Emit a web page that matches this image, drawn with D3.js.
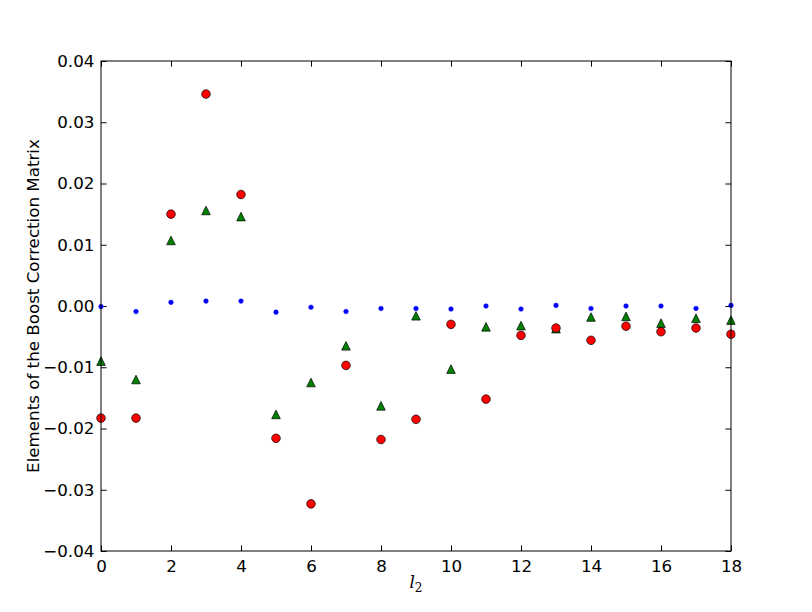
<!DOCTYPE html>
<html><head><meta charset="utf-8">
<script src="https://cdn.jsdelivr.net/npm/d3@7"></script>
<style>body{margin:0;background:#fff}svg{display:block}</style>
</head><body>
<script>
const l2 = [0,1,2,3,4,5,6,7,8,9,10,11,12,13,14,15,16,17,18];
const redVals = [-0.0183,-0.0183,0.0150,0.0346,0.0182,-0.0216,-0.0323,-0.0097,-0.0218,-0.0185,-0.0030,-0.0152,-0.0048,-0.0036,-0.0056,-0.0033,-0.0042,-0.0036,-0.0046];
const greenVals = [-0.0090,-0.0120,0.0107,0.0156,0.0146,-0.0177,-0.0125,-0.0065,-0.0163,-0.0016,-0.0103,-0.0034,-0.0032,-0.0037,-0.0018,-0.0017,-0.0028,-0.0020,-0.0023];
const blueVals = [-0.0001,-0.0009,0.0006,0.0008,0.0008,-0.0010,-0.0002,-0.0009,-0.0004,-0.0004,-0.0005,0.0000,-0.0005,0.0001,-0.0004,0.0000,0.0000,-0.0004,0.0001];
const xTicks = [0,2,4,6,8,10,12,14,16,18];
const yTicks = [-0.04,-0.03,-0.02,-0.01,0.0,0.01,0.02,0.03,0.04];
const yLabel = "Elements of the Boost Correction Matrix";

const W=812,H=612, L=101,R=731,T=61,B=551;
const svg=d3.select("body").append("svg").attr("width",W).attr("height",H);
const x=d3.scaleLinear().domain([0,18]).range([L,R]);
const y=d3.scaleLinear().domain([-0.04,0.04]).range([B,T]);
const fs=16.7, tl=5.6;
const fmt=v=>{const s=Math.abs(v).toFixed(2); return (v<-1e-9?"\u2212":"")+s;};

const clip=svg.append("defs").append("clipPath").attr("id","c").append("rect").attr("x",L-8).attr("y",T-8).attr("width",R-L+8+4.5).attr("height",B-T+16);

// axes
const axB=d3.axisBottom(x).tickValues(xTicks).tickSize(-tl).tickPadding(tl+3.5).tickFormat(d3.format("d"));
const axT=d3.axisTop(x).tickValues(xTicks).tickSize(-tl).tickFormat("");
const axL=d3.axisLeft(y).tickValues(yTicks).tickSize(-tl).tickPadding(tl+1).tickFormat(fmt);
const axR=d3.axisRight(y).tickValues(yTicks).tickSize(-tl).tickFormat("");
function style(g){g.select(".domain").remove();g.selectAll("line").attr("stroke","#000").attr("stroke-width",1);g.selectAll("text").attr("font-family","DejaVu Sans").attr("font-size",fs).attr("fill","#000");}
svg.append("g").attr("transform",`translate(0,${B})`).call(axB).call(style);
svg.append("g").attr("transform",`translate(0,${T})`).call(axT).call(style);
svg.append("g").attr("transform",`translate(${L},0)`).call(axL).call(style);
svg.append("g").attr("transform",`translate(${R},0)`).call(axR).call(style);

const pts=svg.append("g").attr("clip-path","url(#c)");
// blue dots
pts.selectAll(".b").data(l2).join("circle").attr("cx",d=>x(d)).attr("cy",(d,i)=>y(blueVals[i])).attr("r",2.3).attr("fill","#0000ff").attr("stroke","#0000ff").attr("stroke-width",0.5);
// green triangles
const ts=4.3;
pts.selectAll(".g").data(l2).join("path").attr("transform",(d,i)=>`translate(${x(d)},${y(greenVals[i])})`)
  .attr("d",`M0,${-ts}L${ts},${ts}L${-ts},${ts}Z`).attr("fill","#008000").attr("stroke","#000").attr("stroke-width",0.7);
// red circles
pts.selectAll(".r").data(l2).join("circle").attr("cx",d=>x(d)).attr("cy",(d,i)=>y(redVals[i])).attr("r",4.3).attr("fill","#ff0000").attr("stroke","#000").attr("stroke-width",0.7);

// frame
svg.append("rect").attr("x",L).attr("y",T).attr("width",R-L).attr("height",B-T).attr("fill","none").attr("stroke","#000").attr("stroke-width",1);

// labels
const xl=svg.append("text").attr("x",(L+R)/2).attr("y",588).attr("text-anchor","middle").attr("font-family","DejaVu Serif").attr("font-size",fs);
xl.append("tspan").attr("font-style","italic").text("l");
xl.append("tspan").attr("dy",4).attr("font-size",12).text("2");
svg.append("text").attr("transform",`translate(39,${(T+B)/2}) rotate(-90)`).attr("text-anchor","middle").attr("font-family","DejaVu Sans").attr("font-size",fs).text(yLabel);
</script>
</body></html>
